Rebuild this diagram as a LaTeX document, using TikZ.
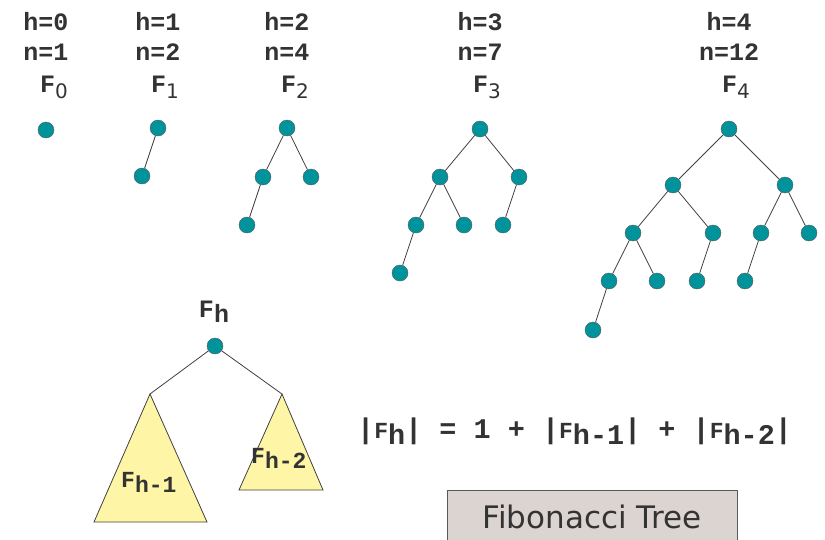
\documentclass[tikz,border=0pt]{standalone}
\usepackage{fontspec}
\setmonofont{Liberation Mono}
\setsansfont{DejaVu Sans}
\newfontfamily\zifferfont{DejaVu Sans}
\definecolor{fbteal}{HTML}{00939C}
\definecolor{dreieckgelb}{HTML}{FFF5A6}
\definecolor{boxgrau}{HTML}{DCD4D1}
\usetikzlibrary{positioning}
\newcommand{\tief}[1]{\raisebox{-0.45ex}{#1}}
\newcommand{\ziffer}[1]{\raisebox{-0.5ex}{\zifferfont\mdseries\fontsize{20}{20}\selectfont #1}}
\newcommand{\kleinF}{{\fontsize{23}{23}\selectfont F}}

\tikzset{
  knoten/.style={circle, draw=black!65, fill=fbteal, minimum size=16pt, inner sep=0pt},
  kante/.style={draw=black!75, line width=0.8pt},
  beschr/.style={font=\ttfamily\bfseries\fontsize{25}{25}\selectfont, text=black!80, inner sep=0pt, anchor=base}
}

\begin{document}
\begin{tikzpicture}[x=1pt, y=-1pt]
      \useasboundingbox (0,0) rectangle (825,539);
      % Labels
      \node[beschr] (h0) at (46,30) {h=0};
      \node[beschr] (n0) at (46,60) {n=1};
      \node[beschr] (t0) at (54,92) {F\ziffer{0}};
      \node[beschr] (h1) at (158,30) {h=1};
      \node[beschr] (n1) at (158,60) {n=2};
      \node[beschr] (t1) at (165,92) {F\ziffer{1}};
      \node[beschr] (h2) at (287,30) {h=2};
      \node[beschr] (n2) at (287,60) {n=4};
      \node[beschr] (t2) at (295,92) {F\ziffer{2}};
      \node[beschr] (h3) at (480,30) {h=3};
      \node[beschr] (n3) at (480,60) {n=7};
      \node[beschr] (t3) at (487,92) {F\ziffer{3}};
      \node[beschr] (h4) at (729,30) {h=4};
      \node[beschr] (n4) at (729,60) {n=12};
      \node[beschr] (t4) at (736,92) {F\ziffer{4}};
      % F_0
      \node[knoten] (a0) at (46,130) {};
      % F_1
      \node[knoten] (b0) at (158,128) {};
      \node[knoten] (b1) at (142,176) {};
      \draw[kante] (b0) -- (b1);
      % F_2
      \node[knoten] (c0) at (287,128) {};
      \node[knoten] (c1) at (263,177) {};
      \node[knoten] (c2) at (311,177) {};
      \node[knoten] (c3) at (247,225) {};
      \draw[kante] (c0) -- (c1) (c0) -- (c2) (c1) -- (c3);
      % F_3
      \node[knoten] (d0) at (480,129) {};
      \node[knoten] (d1) at (440,177) {};
      \node[knoten] (d2) at (519,177) {};
      \node[knoten] (d3) at (416,225) {};
      \node[knoten] (d4) at (464,225) {};
      \node[knoten] (d5) at (503,225) {};
      \node[knoten] (d6) at (400,273) {};
      \draw[kante] (d0) -- (d1) (d0) -- (d2) (d1) -- (d3) (d1) -- (d4)
                   (d2) -- (d5) (d3) -- (d6);
      % F_4
      \node[knoten] (e0) at (729,129) {};
      \node[knoten] (e1) at (673,185) {};
      \node[knoten] (e2) at (785,185) {};
      \node[knoten] (e3) at (633,233) {};
      \node[knoten] (e4) at (713,233) {};
      \node[knoten] (e5) at (761,233) {};
      \node[knoten] (e6) at (809,233) {};
      \node[knoten] (e7) at (609,281) {};
      \node[knoten] (e8) at (657,281) {};
      \node[knoten] (e9) at (697,281) {};
      \node[knoten] (e10) at (745,281) {};
      \node[knoten] (e11) at (593,330) {};
      \draw[kante] (e0) -- (e1) (e0) -- (e2) (e1) -- (e3) (e1) -- (e4)
                   (e2) -- (e5) (e2) -- (e6) (e3) -- (e7) (e3) -- (e8)
                   (e4) -- (e9) (e5) -- (e10) (e7) -- (e11);
      % F_h
      \node[beschr] (th) at (214,317) {F\tief{h}};
      \node[knoten] (fh) at (215,346) {};
      \coordinate (links) at (150,394);
      \coordinate (rechts) at (282,394);
      \filldraw[kante, fill=dreieckgelb] (links) -- (207,522) -- (94,522) -- cycle;
      \filldraw[kante, fill=dreieckgelb] (rechts) -- (323,490) -- (239,490) -- cycle;
      \draw[kante] (links) -- (fh) -- (rechts);
      \node[beschr, anchor=base west, font=\ttfamily\bfseries\fontsize{23}{23}\selectfont]
        (tl) at (121,487) {F\tief{h-1}};
      \node[beschr, anchor=base west, font=\ttfamily\bfseries\fontsize{23}{23}\selectfont]
        (tr) at (251,463) {F\tief{h-2}};
      % Formula
      \node[beschr, anchor=base west, font=\ttfamily\bfseries\fontsize{28.5}{28.5}\selectfont]
        (formel) at (357,438)
        {|\kleinF\tief{h}| = 1 + |\kleinF\tief{h-1}| + |\kleinF\tief{h-2}|};
      % Title
      \draw[black!65, fill=boxgrau] (447,490) rectangle (737,560);
      \node[font=\sffamily\fontsize{31}{31}\selectfont, text=black!80, anchor=base, inner sep=0pt]
        (titel) at (592,528) {Fibonacci Tree};
\end{tikzpicture}
\end{document}
